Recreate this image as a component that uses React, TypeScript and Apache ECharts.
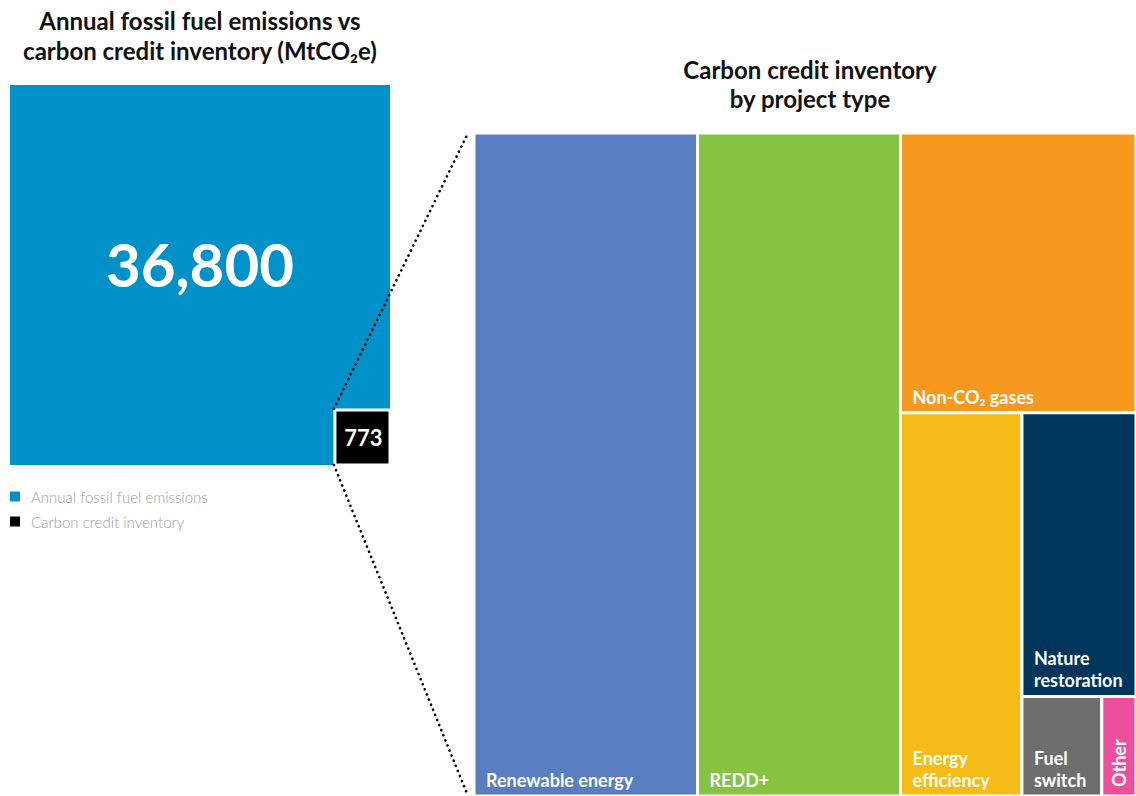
import React, { useEffect, useRef } from "react";
import * as echarts from "echarts";

const emissionNames = ["Annual fossil fuel emissions", "Carbon credit inventory"];
const emissionValues = [36800, 773];
const emissionColors = ["#0091C9", "#000000"];

const projectTypes = [
  "Renewable energy",
  "REDD+",
  "Non-CO₂ gases",
  "Energy efficiency",
  "Nature restoration",
  "Fuel switch",
  "Other",
];
const projectLabels = [
  "Renewable energy",
  "REDD+",
  "Non-CO₂ gases",
  "Energy\nefficiency",
  "Nature\nrestoration",
  "Fuel\nswitch",
  "Other",
];
const projectValues = [261, 237, 116, 82, 57, 14, 6];
const projectColors = ["#587EC1", "#86C441", "#F8991F", "#F5BC18", "#00365C", "#6E6E6E", "#EC4F9C"];

// slice-and-dice structure (direction, children by index)
const sliceTree: any = ["x", 0, 1, ["y", 2, ["x", 3, ["y", 4, ["x", 5, 6]]]]];

const FONT = "Lato";

function nodeSum(node: any): number {
  if (typeof node === "number") return projectValues[node];
  return node.slice(1).reduce((a: number, c: any) => a + nodeSum(c), 0);
}

function layout(node: any, x0: number, y0: number, x1: number, y1: number, out: any[]) {
  // y0 = top (higher value), y1 = bottom in data units
  if (typeof node === "number") {
    out[node] = [x0, y0, x1, y1];
    return;
  }
  const dir = node[0];
  const kids = node.slice(1);
  const total = nodeSum(node);
  let cur = dir === "x" ? x0 : y0;
  kids.forEach((k: any) => {
    const f = nodeSum(k) / total;
    if (dir === "x") {
      const w = (x1 - x0) * f;
      layout(k, cur, y0, cur + w, y1, out);
      cur += w;
    } else {
      const h = (y0 - y1) * f;
      layout(k, x0, cur, x1, cur - h, out);
      cur -= h;
    }
  });
}

export default function App() {
  const ref = useRef<HTMLDivElement>(null);
  useEffect(() => {
    if (!ref.current) return;
    const chart = echarts.init(ref.current, undefined, { renderer: "svg" });
    const S = Math.sqrt(emissionValues[0]);
    const s = Math.sqrt(emissionValues[1]);
    const projTotal = projectValues.reduce((a, b) => a + b, 0);
    const side = Math.sqrt(projTotal);
    const rects: any[] = [];
    layout(sliceTree, 0, side, side, 0, rects);

    const titleStyle = {
      fontFamily: FONT,
      fontWeight: "bold" as const,
      fontSize: 24,
      lineHeight: 30,
      color: "#111",
    };
    const labelFont = { fill: "#fff", fontSize: 18, fontWeight: "bold", fontFamily: FONT };

    chart.setOption({
      animation: false,
      title: [
        {
          text: "Annual fossil fuel emissions vs\ncarbon credit inventory (MtCO₂e)",
          left: 200,
          top: 5,
          padding: 0,
          textAlign: "center",
          textStyle: titleStyle,
        },
        {
          text: "Carbon credit inventory\nby project type",
          left: 810,
          top: 55,
          padding: 0,
          textAlign: "center",
          textStyle: { ...titleStyle, lineHeight: 29 },
        },
      ],
      legend: {
        data: emissionNames,
        orient: "vertical",
        left: 10,
        top: 489,
        padding: 0,
        icon: "rect",
        itemWidth: 10,
        itemHeight: 10,
        itemGap: 10,
        selectedMode: false,
        textStyle: {
          color: "#9d9d9d",
          fontSize: 15,
          fontWeight: 300,
          fontFamily: FONT,
          padding: [0, 0, 0, 6],
        },
      },
      grid: [
        { left: 10, top: 85, width: 380, height: 380 },
        { left: 474, top: 133, width: 663, height: 663 },
      ],
      xAxis: [
        { gridIndex: 0, type: "value", min: 0, max: S, show: false },
        { gridIndex: 1, type: "value", min: 0, max: side, show: false },
      ],
      yAxis: [
        { gridIndex: 0, type: "value", min: 0, max: S, show: false },
        { gridIndex: 1, type: "value", min: 0, max: side, show: false },
      ],
      series: [
        {
          type: "custom",
          name: emissionNames[0],
          xAxisIndex: 0,
          yAxisIndex: 0,
          itemStyle: { color: emissionColors[0] },
          data: [[emissionValues[0]]],
          renderItem: (params: any, api: any) => {
            const p0 = api.coord([0, S]);
            const p1 = api.coord([S, 0]);
            return {
              type: "group",
              children: [
                {
                  type: "rect",
                  shape: { x: p0[0], y: p0[1], width: p1[0] - p0[0], height: p1[1] - p0[1] },
                  style: { fill: emissionColors[0] },
                },
                {
                  type: "text",
                  style: {
                    text: emissionValues[0].toLocaleString("en-US"),
                    x: (p0[0] + p1[0]) / 2,
                    y: (p0[1] + p1[1]) / 2 - 11,
                    textAlign: "center",
                    textVerticalAlign: "middle",
                    fill: "#fff",
                    fontSize: 60,
                    fontWeight: "bold",
                    fontFamily: FONT,
                  },
                },
              ],
            };
          },
        },
        {
          type: "custom",
          name: emissionNames[1],
          xAxisIndex: 0,
          yAxisIndex: 0,
          itemStyle: { color: emissionColors[1] },
          data: [[emissionValues[1]]],
          renderItem: (params: any, api: any) => {
            const p0 = api.coord([S - s, s]);
            const p1 = api.coord([S, 0]);
            return {
              type: "group",
              children: [
                {
                  type: "rect",
                  shape: { x: p0[0], y: p0[1], width: p1[0] - p0[0], height: p1[1] - p0[1] },
                  style: { fill: emissionColors[1], stroke: "#fff", lineWidth: 3 },
                },
                {
                  type: "text",
                  style: {
                    text: String(emissionValues[1]),
                    x: (p0[0] + p1[0]) / 2 + 1,
                    y: (p0[1] + p1[1]) / 2,
                    textAlign: "center",
                    textVerticalAlign: "middle",
                    fill: "#fff",
                    fontSize: 22,
                    fontWeight: "bold",
                    fontFamily: FONT,
                  },
                },
              ],
            };
          },
        },
        {
          type: "custom",
          name: "Carbon credit inventory by project type",
          xAxisIndex: 1,
          yAxisIndex: 1,
          data: projectValues.map((v, i) => ({ name: projectTypes[i], value: [v] })),
          renderItem: (params: any, api: any) => {
            const i = params.dataIndex;
            const r = rects[i];
            const p0 = api.coord([r[0], r[1]]);
            const p1 = api.coord([r[2], r[3]]);
            const label = projectLabels[i];
            const isOther = projectTypes[i] === "Other";
            const textEl = isOther
              ? {
                  type: "text",
                  x: (p0[0] + p1[0]) / 2,
                  y: p1[1] - 9,
                  rotation: Math.PI / 2,
                  style: {
                    ...labelFont,
                    text: label,
                    x: 0,
                    y: 0,
                    textAlign: "left",
                    textVerticalAlign: "middle",
                  },
                }
              : {
                  type: "text",
                  style: {
                    ...labelFont,
                    text: label,
                    x: p0[0] + 12,
                    y: p1[1] - 5,
                    textAlign: "left",
                    textVerticalAlign: "bottom",
                    lineHeight: 22,
                  },
                };
            return {
              type: "group",
              children: [
                {
                  type: "rect",
                  shape: { x: p0[0], y: p0[1], width: p1[0] - p0[0], height: p1[1] - p0[1] },
                  style: { fill: projectColors[i], stroke: "#fff", lineWidth: 3 },
                },
                textEl,
              ],
            };
          },
        },
      ],
    });

    const a1 = chart.convertToPixel({ gridIndex: 0 }, [S - s, s]) as number[];
    const a2 = chart.convertToPixel({ gridIndex: 0 }, [S - s, 0]) as number[];
    const b1 = chart.convertToPixel({ gridIndex: 1 }, [0, side]) as number[];
    const b2 = chart.convertToPixel({ gridIndex: 1 }, [0, 0]) as number[];
    const dotStyle = { stroke: "#000", lineWidth: 2.6, lineDash: [0.1, 5.4], lineCap: "round" };
    chart.setOption({
      graphic: [
        {
          type: "line",
          z: 100,
          shape: { x1: a1[0] - 1, y1: a1[1] - 1, x2: b1[0] - 6, y2: b1[1] },
          style: dotStyle,
        },
        {
          type: "line",
          z: 100,
          shape: { x1: a2[0] - 1, y1: a2[1], x2: b2[0] - 6, y2: b2[1] },
          style: dotStyle,
        },
      ],
    });

    return () => chart.dispose();
  }, []);
  return (
    <div
      ref={ref}
      style={{ position: "fixed", left: 0, top: 0, width: 1136, height: 796, background: "#fff" }}
    />
  );
}
